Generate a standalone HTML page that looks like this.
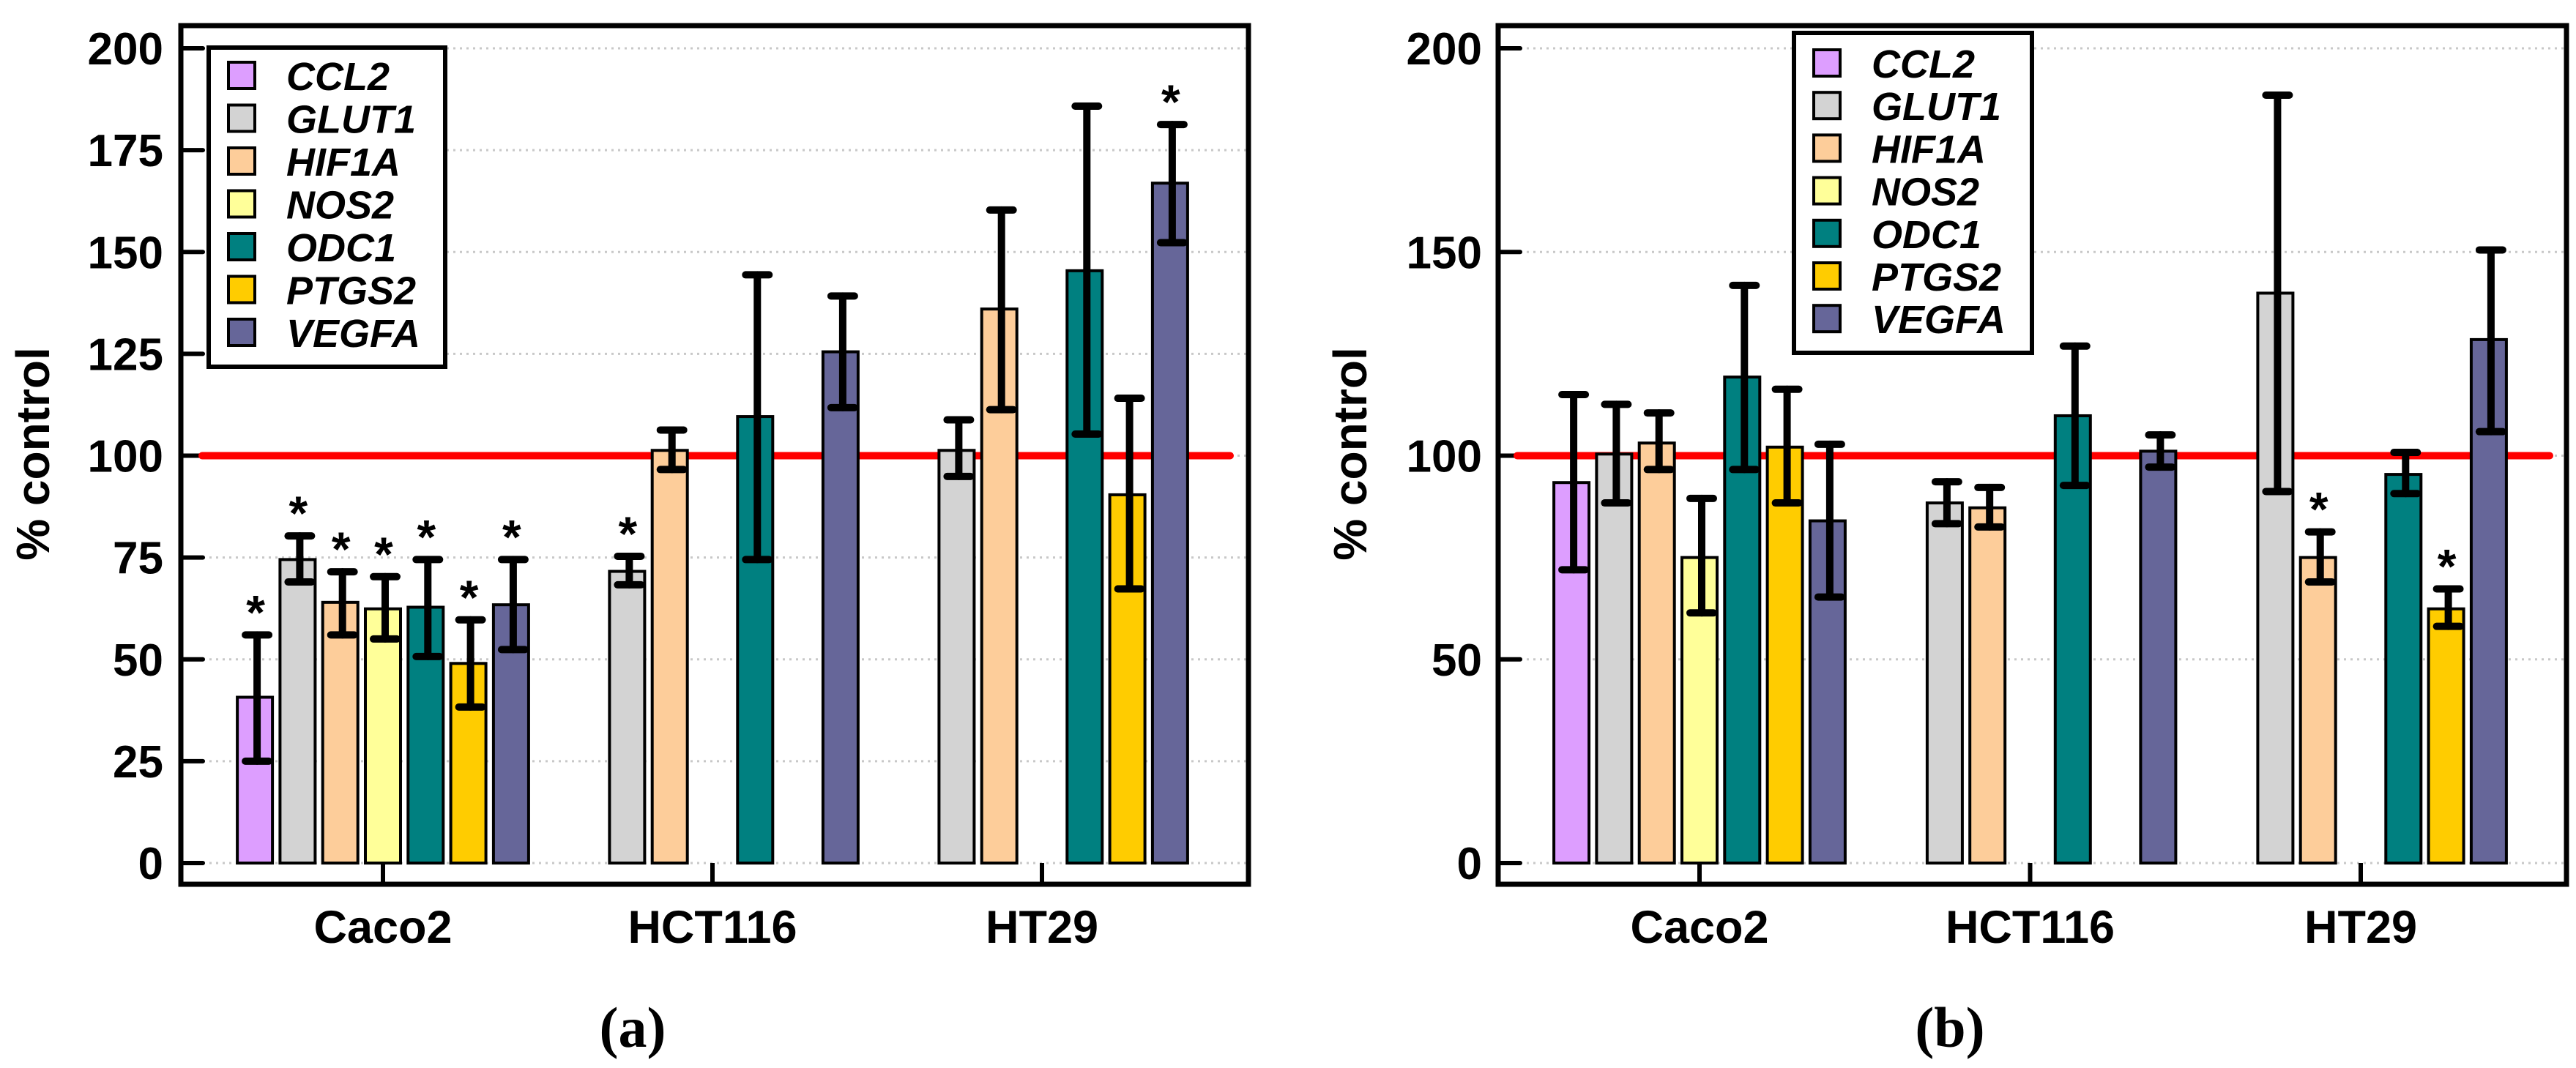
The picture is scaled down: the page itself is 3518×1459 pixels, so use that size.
<!DOCTYPE html>
<html><head><meta charset="utf-8"><style>
html,body{margin:0;padding:0;background:#fff;}
svg{display:block;font-family:"Liberation Sans",sans-serif;}
</style></head><body>
<svg id="fig" width="3518" height="1459" viewBox="0 0 3518 1459" xmlns="http://www.w3.org/2000/svg"></svg>
<script>
const genes = ["CCL2","GLUT1","HIF1A","NOS2","ODC1","PTGS2","VEGFA"];
const colors = ["#dd9eff","#d3d3d3","#fdcd9a","#ffff99","#008080","#ffcc00","#666699"];
const cellLines = ["Caco2","HCT116","HT29"];
// Panel a: values [cellLine][gene], null = not shown
const aValues = [
  [40.7,74.5,64,62.4,62.8,49,63.4],
  [null,71.6,101.3,null,109.6,null,125.5],
  [null,101.3,136,null,145.4,90.4,166.9]
];
const aErrHi = [
  [56,80.3,71.5,70.3,74.5,59.7,74.5],
  [null,75.3,106.3,null,144.4,null,139.2],
  [null,108.8,160.3,null,185.8,114.1,181.3]
];
const aErrLo = [
  [25,69,56,55,50.7,38.3,52.4],
  [null,68.3,96.6,null,74.5,null,111.8],
  [null,94.9,111.3,null,105.3,67.3,152.3]
];
const aStars = [
  [1,1,1,1,1,1,1],
  [0,1,0,0,0,0,0],
  [0,0,0,0,0,0,1]
];
const aTicks = [0,25,50,75,100,125,150,175,200];
// Panel b
const bValues = [
  [93.4,100.4,103.1,75,119.3,102.1,84],
  [null,88.4,87.2,null,109.8,null,101.1],
  [null,139.9,75,null,95.4,62.4,128.5]
];
const bErrHi = [
  [115,112.6,110.5,89.5,141.8,116.3,102.8],
  [null,93.6,92.2,null,126.9,null,105.1],
  [null,188.5,81.3,null,100.8,67.3,150.5]
];
const bErrLo = [
  [72,88.4,96.6,61.4,96.6,88.4,65.3],
  [null,83.3,82.5,null,92.7,null,97.2],
  [null,91.2,69,null,90.7,58.1,105.9]
];
const bStars = [
  [0,0,0,0,0,0,0],
  [0,0,0,0,0,0,0],
  [0,0,1,0,0,1,0]
];
const bTicks = [0,50,100,150,200];

const NS="http://www.w3.org/2000/svg";
const svg=document.getElementById('fig');
function mk(tag,attrs,parent,text){const e=document.createElementNS(NS,tag);for(const k in attrs)e.setAttribute(k,attrs[k]);if(text!==undefined)e.textContent=text;(parent||svg).appendChild(e);return e;}

function panel(cfg){
  const g=mk('g',{});
  
  
  const y=v=>cfg.y0-(v/200)*(cfg.y0-cfg.y200);
  const xc=i=>cfg.cx0+i*cfg.gap;
  const pitch=58.3, bw=48;
  cfg.ticks.forEach(t=>{
    const l=mk('line',{x1:cfg.left+30,x2:cfg.right,y1:y(t),y2:y(t),stroke:'#c8c8c8','stroke-width':3,'stroke-dasharray':'3,6'},g);
    
    
    const tk=mk('line',{x1:cfg.left,x2:cfg.left+30,y1:y(t),y2:y(t),stroke:'#000','stroke-width':6,'stroke-linecap':'round'},g);
    
    
    const tl=mk('text',{x:cfg.tickRight,y:y(t)+22,'text-anchor':'end','font-size':62,'font-weight':'bold'},g,String(t));
    
    
  });
  cellLines.forEach((c,i)=>{
    const tk=mk('line',{x1:xc(i),x2:xc(i),y1:cfg.y0,y2:cfg.bottom,stroke:'#000','stroke-width':6},g);
    
    
    const tl=mk('text',{x:xc(i),y:1288,'text-anchor':'middle','font-size':63,'font-weight':'bold'},g,c);
    
    
  });
  const rl=mk('line',{x1:cfg.redX1,x2:cfg.redX2,y1:y(100),y2:y(100),stroke:'#ff0000','stroke-width':10,'stroke-linecap':'round'},g);
  
  
  cellLines.forEach((c,i)=>{
    genes.forEach((gn,j)=>{
      const v=cfg.values[i][j]; if(v===null)return;
      const cx=xc(i)+(j-3)*pitch;
      const r=mk('rect',{x:cx-bw/2,y:y(v),width:bw,height:y(0)-y(v),fill:colors[j],stroke:'#000','stroke-width':4},g);
      
      
    });
  });
  cellLines.forEach((c,i)=>{
    genes.forEach((gn,j)=>{
      const v=cfg.values[i][j]; if(v===null)return;
      const cx=xc(i)+(j-3)*pitch+3;
      const hi=y(cfg.hi[i][j]), lo=y(cfg.lo[i][j]);
      const eb=mk('g',{stroke:'#000','stroke-width':10,'stroke-linecap':'round'},g);
      
      
      mk('line',{x1:cx,x2:cx,y1:hi,y2:lo},eb);
      mk('line',{x1:cx-16,x2:cx+16,y1:hi,y2:hi},eb);
      mk('line',{x1:cx-16,x2:cx+16,y1:lo,y2:lo},eb);
      if(cfg.stars[i][j]){
        const s=mk('text',{x:cx-2,y:hi-8,'text-anchor':'middle','font-size':66,'font-weight':'bold'},g,'*');
        
        
      }
    });
  });
  const fr=mk('rect',{x:cfg.left,y:35,width:cfg.right-cfg.left,height:cfg.bottom-35,fill:'none',stroke:'#000','stroke-width':7},g);
  
  
  const yl=mk('text',{x:cfg.ylabX,y:620,'text-anchor':'middle','font-size':64,'font-weight':'bold',transform:`rotate(-90 ${cfg.ylabX} 620)`,dy:22},g,'% control');
  
  
  const lg=mk('g',{},g);
  
  
  mk('rect',{x:cfg.lgX,y:cfg.lgY,width:cfg.lgW,height:cfg.lgH,fill:'#fff',stroke:'#000','stroke-width':6},lg);
  genes.forEach((gn,j)=>{
    const ry=cfg.lgRow0+j*cfg.lgStep;
    const e=mk('g',{},lg);
    
    
    mk('rect',{x:cfg.lgX+27,y:ry-18,width:36,height:36,fill:colors[j],stroke:'#000','stroke-width':4},e);
    mk('text',{x:cfg.lgX+106,y:ry+20,'font-size':54,'font-weight':'bold','font-style':'italic'},e,gn);
  });
  const cp=mk('text',{x:cfg.capX,y:1430,'text-anchor':'middle','font-size':78,'font-weight':'bold','font-family':'"Liberation Serif",serif'},g,cfg.cap);
  
  
}

panel({name:'panel-a-chart',values:aValues,hi:aErrHi,lo:aErrLo,stars:aStars,ticks:aTicks,
  left:247,right:1705,bottom:1208,y0:1179,y200:66,cx0:523,gap:450,tickRight:223,
  redX1:276,redX2:1680,ylabX:45,lgX:285,lgY:65,lgW:323,lgH:436,lgRow0:103,lgStep:58.5,capX:864,cap:'(a)'});
panel({name:'panel-b-chart',values:bValues,hi:bErrHi,lo:bErrLo,stars:bStars,ticks:bTicks,
  left:2046,right:3505,bottom:1208,y0:1179,y200:66,cx0:2321,gap:451.5,tickRight:2024,
  redX1:2072,redX2:3482,ylabX:1844,lgX:2450,lgY:45,lgW:325,lgH:437,lgRow0:86,lgStep:58.2,capX:2663,cap:'(b)'});
</script>
</body></html>
